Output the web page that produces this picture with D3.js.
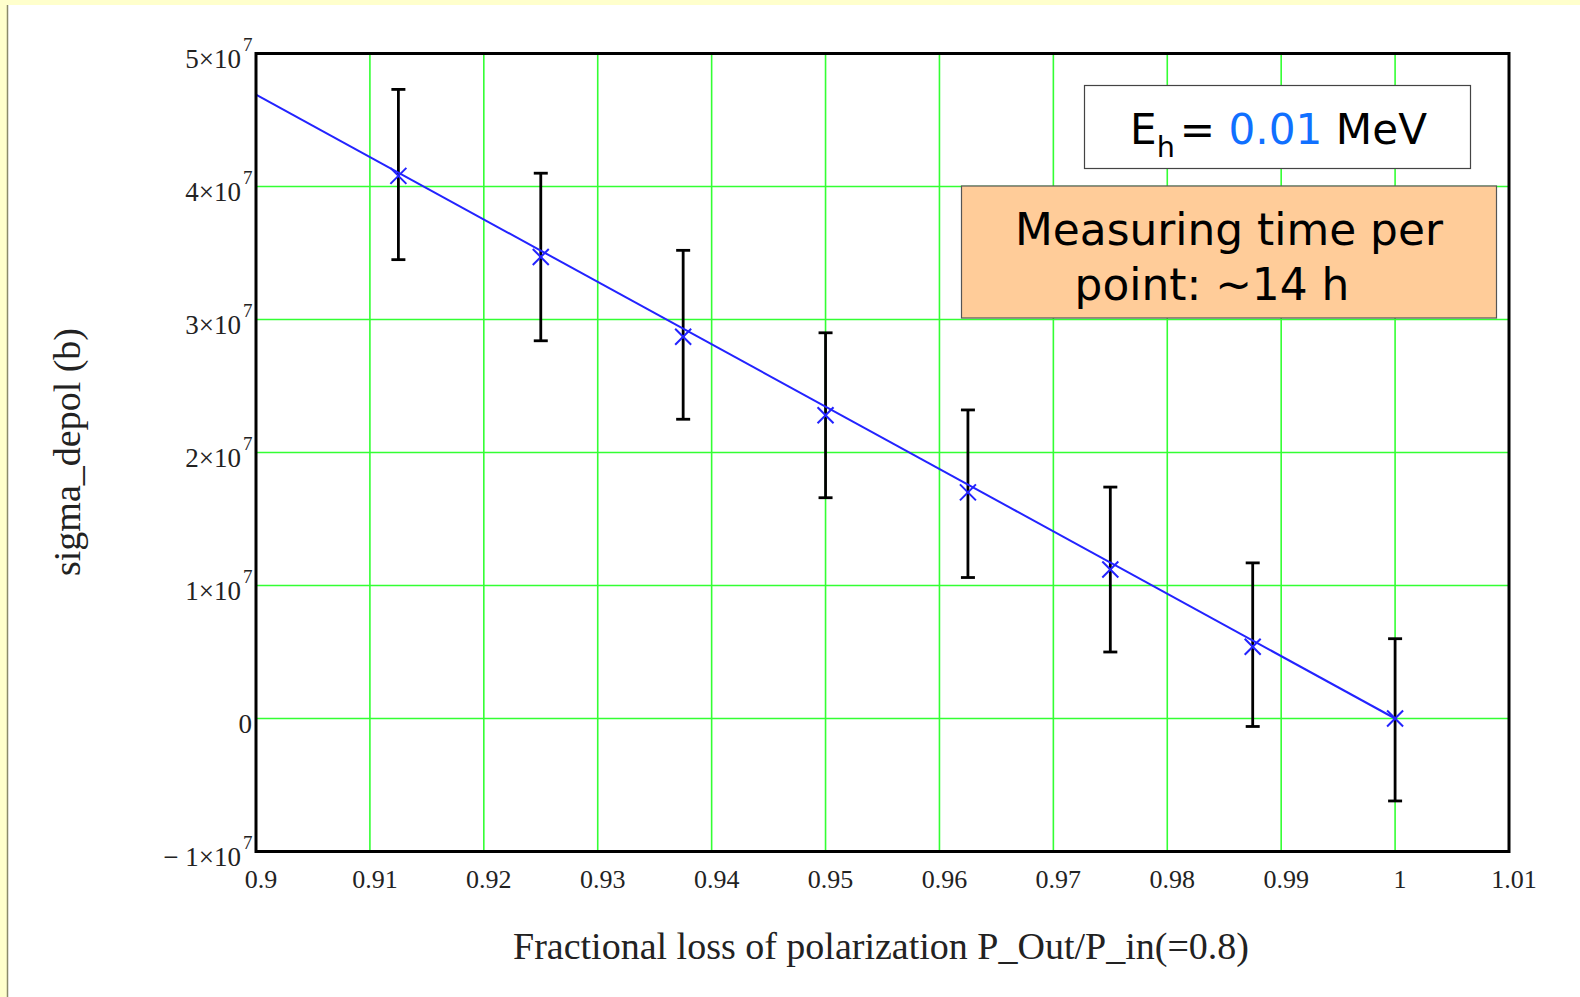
<!DOCTYPE html>
<html>
<head>
<meta charset="utf-8">
<script src="https://cdn.jsdelivr.net/npm/d3@7/dist/d3.min.js"></script>
<style>
  html, body { margin: 0; padding: 0; background: #ffffff; }
  svg { display: block; }
</style>
</head>
<body>
<svg id="chart" width="1580" height="997"></svg>
<script>
// measured points: fractional loss vs sigma_depol
var xValues = [0.9125, 0.925, 0.9375, 0.95, 0.9625, 0.975, 0.9875, 1.0];
var yValues = [4.08e7, 3.47e7, 2.87e7, 2.28e7, 1.70e7, 1.12e7, 0.54e7, 0.0];
var yHigh   = [4.73e7, 4.10e7, 3.52e7, 2.90e7, 2.32e7, 1.74e7, 1.17e7, 0.60e7];
var yLow    = [3.45e7, 2.84e7, 2.25e7, 1.66e7, 1.06e7, 0.50e7, -0.06e7, -0.62e7];

// fitted straight line
var fitX = [0.9, 1.0];
var fitY = [4.69e7, 0.0];

var xTicks = [0.9, 0.91, 0.92, 0.93, 0.94, 0.95, 0.96, 0.97, 0.98, 0.99, 1.0, 1.01];
var xTickLabels = ["0.9", "0.91", "0.92", "0.93", "0.94", "0.95", "0.96", "0.97", "0.98", "0.99", "1", "1.01"];
var yTicks = [-1e7, 0, 1e7, 2e7, 3e7, 4e7, 5e7];
var yTickLabels = ["\u2212 1\u00d710", "0", "1\u00d710", "2\u00d710", "3\u00d710", "4\u00d710", "5\u00d710"];
var yTickExp = ["7", "", "7", "7", "7", "7", "7"];

var svg = d3.select("#chart");
var serif = "'Liberation Serif', 'Times New Roman', serif";
var boxFont = "'DejaVu Sans', sans-serif";

// slide frame (pale yellow strips)
svg.append("rect").attr("x", 0).attr("y", 0).attr("width", 1580).attr("height", 5).attr("fill", "#ffffcc");
svg.append("rect").attr("x", 0).attr("y", 0).attr("width", 7).attr("height", 997).attr("fill", "#ffffcc");
svg.append("line").attr("x1", 7.5).attr("x2", 7.5).attr("y1", 5).attr("y2", 997)
	.attr("stroke", "#8a8a6a").attr("stroke-width", 1.5);

var plotLeft = 256, plotRight = 1509, plotTop = 53.5, plotBottom = 851.5;

var x = d3.scaleLinear().domain([0.9, 1.01]).range([plotLeft, plotRight]);
var y = d3.scaleLinear().domain([-1e7, 5e7]).range([plotBottom, plotTop]);

// grid
var grid = svg.append("g");
grid.selectAll(".vg").data(xTicks.slice(1, -1)).enter().append("line")
	.attr("x1", function(d){ return x(d); }).attr("x2", function(d){ return x(d); })
	.attr("y1", plotTop).attr("y2", plotBottom)
	.attr("stroke", "#33ff33").attr("stroke-width", 1.6);
grid.selectAll(".hg").data(yTicks.slice(1, -1)).enter().append("line")
	.attr("x1", plotLeft).attr("x2", plotRight)
	.attr("y1", function(d){ return y(d); }).attr("y2", function(d){ return y(d); })
	.attr("stroke", "#33ff33").attr("stroke-width", 1.6);

// error bars
var bars = svg.append("g");
xValues.forEach(function(xv, i){
	var cx = x(xv);
	bars.append("line").attr("x1", cx).attr("x2", cx).attr("y1", y(yHigh[i])).attr("y2", y(yLow[i]))
		.attr("stroke", "#000").attr("stroke-width", 2.8);
	[yHigh[i], yLow[i]].forEach(function(v){
		bars.append("line").attr("x1", cx - 7).attr("x2", cx + 7).attr("y1", y(v)).attr("y2", y(v))
			.attr("stroke", "#000").attr("stroke-width", 2.8);
	});
});

// fit line
var lineGen = d3.line().x(function(d){ return x(d[0]); }).y(function(d){ return y(d[1]); });
svg.append("path").datum(d3.zip(fitX, fitY)).attr("d", lineGen)
	.attr("fill", "none").attr("stroke", "#2323ff").attr("stroke-width", 2);

// crosses
var s = 8;
var marks = svg.append("g");
xValues.forEach(function(xv, i){
	var cx = x(xv), cy = y(yValues[i]);
	marks.append("path")
		.attr("d", "M" + (cx - s) + "," + (cy - s) + "L" + (cx + s) + "," + (cy + s) +
			"M" + (cx - s) + "," + (cy + s) + "L" + (cx + s) + "," + (cy - s))
		.attr("stroke", "#2323ff").attr("stroke-width", 2).attr("fill", "none");
});

// frame
svg.append("rect").attr("x", plotLeft).attr("y", plotTop).attr("width", plotRight - plotLeft).attr("height", plotBottom - plotTop)
	.attr("fill", "none").attr("stroke", "#000").attr("stroke-width", 3);

// x tick labels
svg.append("g").selectAll("text").data(xTicks).enter().append("text")
	.attr("x", function(d){ return x(d) + 5; }).attr("y", 888)
	.attr("text-anchor", "middle").attr("font-family", serif).attr("font-size", 26).attr("fill", "#222")
	.text(function(d, i){ return xTickLabels[i]; });

// y tick labels with exponent
var yl = svg.append("g");
yTicks.forEach(function(v, i){
	var ty = y(v);
	if (yTickExp[i] == "") {
		yl.append("text").attr("x", 252).attr("y", ty + 14).attr("text-anchor", "end")
			.attr("font-family", serif).attr("font-size", 27).attr("fill", "#222").text(yTickLabels[i]);
		return;
	}
	yl.append("text").attr("x", 241).attr("y", ty + 14).attr("text-anchor", "end")
		.attr("font-family", serif).attr("font-size", 27).attr("fill", "#222").text(yTickLabels[i]);
	yl.append("text").attr("x", 243).attr("y", ty - 3)
		.attr("font-family", serif).attr("font-size", 19).attr("fill", "#222").text(yTickExp[i]);
});

// axis titles
svg.append("text").attr("x", 881).attr("y", 959).attr("text-anchor", "middle")
	.attr("font-family", serif).attr("font-size", 38).attr("fill", "#222")
	.text("Fractional loss of polarization P_Out/P_in(=0.8)");
svg.append("text").attr("transform", "translate(80,452) rotate(-90)").attr("text-anchor", "middle")
	.attr("font-family", serif).attr("font-size", 38).attr("fill", "#222")
	.text("sigma_depol (b)");

// helper: shrink/grow a text node to a target width
function fitWidth(node, size, target){
	var w = node.node().getComputedTextLength();
	var fs = size * target / w;
	node.attr("font-size", fs);
	return fs;
}

// energy box
svg.append("rect").attr("x", 1084.5).attr("y", 85.5).attr("width", 386).attr("height", 83)
	.attr("fill", "#fff").attr("stroke", "#444").attr("stroke-width", 1.2);
var eText = svg.append("text").attr("x", 1130).attr("y", 144)
	.attr("font-family", boxFont).attr("font-size", 44).attr("fill", "#000");
eText.append("tspan").text("E");
eText.append("tspan").attr("font-size", "0.68em").attr("dy", 13).text("h");
eText.append("tspan").attr("dy", -13).attr("dx", 5).text("= ");
eText.append("tspan").attr("fill", "#1070ff").text("0.01");
eText.append("tspan").text(" MeV");
fitWidth(eText, 44, 292);

// measuring time box
svg.append("rect").attr("x", 961.5).attr("y", 186).attr("width", 535).attr("height", 132)
	.attr("fill", "#ffcc99").attr("stroke", "#555").attr("stroke-width", 1.2);
var m1 = svg.append("text").attr("x", 1229).attr("y", 245).attr("text-anchor", "middle")
	.attr("font-family", boxFont).attr("font-size", 40).attr("fill", "#000").text("Measuring time per");
var fs = fitWidth(m1, 40, 428);
svg.append("text").attr("x", 1212).attr("y", 300).attr("text-anchor", "middle")
	.attr("font-family", boxFont).attr("font-size", fs).attr("fill", "#000").text("point: ~14 h");
</script>
</body>
</html>
